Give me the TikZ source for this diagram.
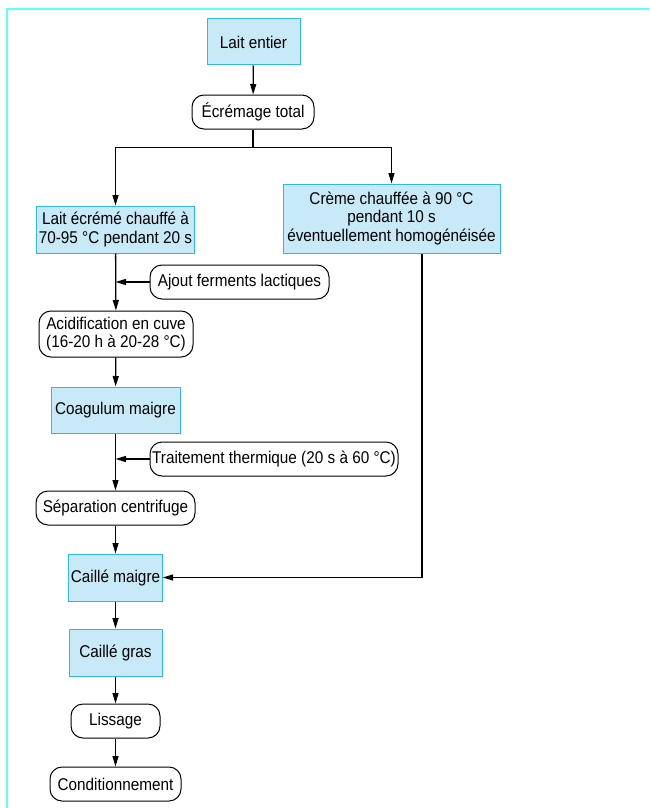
\documentclass[tikz,border=0pt]{standalone}
\usepackage{fontspec}
\setmainfont[FakeStretch=0.9]{Liberation Sans}
\usetikzlibrary{arrows.meta}
\definecolor{prodfill}{HTML}{C7E9F8}
\definecolor{prodline}{HTML}{2FB6EA}
\definecolor{framecol}{HTML}{5CFFFF}
\begin{document}
\begin{tikzpicture}[x=1pt,y=-1pt,
  every node/.style={font=\fontsize{17}{18.8}\selectfont, inner sep=2pt, align=center},
  prod/.style={draw=prodline, fill=prodfill, line width=1pt},
  step box/.style={draw=black, fill=white, line width=1pt, rounded corners=12pt},
  flow/.style={line width=1.3pt, -{Triangle[length=10.5pt,width=6pt]}},
  link/.style={line width=1.3pt}]
\useasboundingbox (0,0) rectangle (649,808);
% partial frame
\draw[framecol, line width=2pt] (649,9) -- (7,9) -- (7,808);

% nodes
\node[prod, minimum width=93pt, minimum height=46pt] (lait) at (253.5,42) {Lait entier};
\node[step box, minimum width=122pt, minimum height=34pt] (ecre) at (253,112) {Écrémage total};
\node[prod, minimum width=156pt, minimum height=47pt] (lecr) at (115.5,229.5) {Lait écrémé chauffé à\\70-95~°C pendant 20 s};
\node[prod, minimum width=217pt, minimum height=69pt] (creme) at (391.5,218.5) {Crème chauffée à 90~°C\\pendant 10 s\\éventuellement homogénéisée};
\node[step box, minimum width=179pt, minimum height=34pt] (ajout) at (239.5,282) {Ajout ferments lactiques};
\node[step box, minimum width=154pt, minimum height=46pt] (acid) at (116,334) {Acidification en cuve\\(16-20 h à 20-28~°C)};
\node[prod, minimum width=129pt, minimum height=46pt] (coag) at (115.5,410) {Coagulum maigre};
\node[step box, minimum width=248pt, minimum height=34pt] (trait) at (274,459) {Traitement thermique (20 s à 60~°C)};
\node[step box, minimum width=159pt, minimum height=34pt] (sep) at (115.5,508) {Séparation centrifuge};
\node[prod, minimum width=93pt, minimum height=47pt] (cm) at (115.5,577.5) {Caillé maigre};
\node[prod, minimum width=93pt, minimum height=47pt] (cg) at (115.5,652.5) {Caillé gras};
\node[step box, minimum width=89pt, minimum height=34pt] (liss) at (115.5,721) {Lissage};
\node[step box, minimum width=131pt, minimum height=34pt] (cond) at (115.5,784) {Conditionnement};

% connectors
\draw[flow] (lait) -- (ecre);
\draw[link] (ecre.south) -- ++(0,18) coordinate (split);
\draw[flow] (split) -| (lecr.north);
\draw[flow] (split) -| (creme.north);
\draw[flow] (lecr) -- (acid);
\draw[flow] (ajout.west) -- (ajout.west -| lecr.south);
\draw[flow] (acid) -- (coag);
\draw[flow] (coag) -- (sep);
\draw[flow] (trait.west) -- (trait.west -| coag.south);
\draw[flow] (sep) -- (cm);
\draw[flow] ([xshift=30.5pt]creme.south) |- (cm.east);
\draw[flow] (cm) -- (cg);
\draw[flow] (cg) -- (liss);
\draw[flow] (liss) -- (cond);
\end{tikzpicture}
\end{document}
